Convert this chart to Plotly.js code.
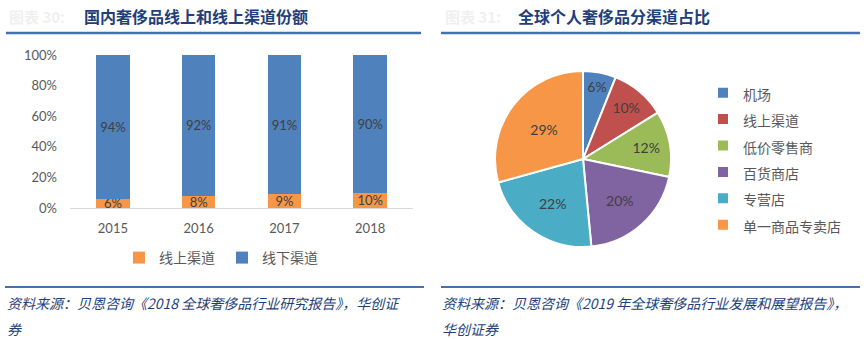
<!DOCTYPE html>
<html>
<head>
<meta charset="utf-8">
<script src="https://cdn.plot.ly/plotly-3.0.1.min.js"></script>
<style>
html,body{margin:0;padding:0;background:#fff;}
#chart{width:864px;height:339px;}
</style>
</head>
<body>
<div id="chart"></div>
<script>
// ---- data ----
const years = ['2015', '2016', '2017', '2018'];
const onlineShare = [6, 8, 9, 10];
const offlineShare = [94, 92, 91, 90];
const barSeriesNames = ['线上渠道', '线下渠道'];
const yTickVals = [0, 20, 40, 60, 80, 100];
const yTickText = ['0%', '20%', '40%', '60%', '80%', '100%'];

const pieLabels = ['机场', '线上渠道', '低价零售商', '百货商店', '专营店', '单一商品专卖店'];
const pieValues = [6, 10, 12, 20, 22, 29];

const leftTitle = '国内奢侈品线上和线上渠道份额';
const rightTitle = '全球个人奢侈品分渠道占比';
const leftSource = ['资料来源：贝恩咨询《2018 全球奢侈品行业研究报告》，华创证', '券'];
const rightSource = ['资料来源：贝恩咨询《2019 年全球奢侈品行业发展和展望报告》，', '华创证券'];

// ---- styling ----
const W = 864, H = 339;
const px = x => x / W;
const py = y => 1 - y / H;
const FONT = 'Lato, "Noto Sans CJK SC", sans-serif';
const CJK = '"Noto Sans CJK SC", sans-serif';
const orange = '#F79646', blue = '#4F81BD';
const pieColors = ['#4F81BD', '#C0504D', '#9BBB59', '#8064A2', '#4BACC6', '#F79646'];
const titleColor = '#1F3F7A';
const lineColor = '#4470B0';

const traces = [
  {
    type: 'bar', x: years, y: onlineShare, name: barSeriesNames[0],
    marker: {color: orange},
    text: onlineShare.map(v => v + '%'), texttemplate: '%{text}',
    textposition: 'inside', insidetextanchor: 'middle', constraintext: 'none', textangle: 0,
    textfont: {family: FONT, size: 13, color: '#404040'},
    hoverinfo: 'skip', legend: 'legend', xaxis: 'x', yaxis: 'y'
  },
  {
    type: 'bar', x: years, y: offlineShare, name: barSeriesNames[1],
    marker: {color: blue},
    text: offlineShare.map(v => v + '%'), texttemplate: '%{text}',
    textposition: 'inside', insidetextanchor: 'middle', constraintext: 'none', textangle: 0,
    textfont: {family: FONT, size: 13, color: '#404040'},
    hoverinfo: 'skip', legend: 'legend', xaxis: 'x', yaxis: 'y'
  },
  {
    type: 'pie',
    labels: pieLabels.map(l => '<span style="font-size:14px">' + l + '</span>'),
    values: pieValues, sort: false,
    direction: 'clockwise', rotation: 0,
    marker: {colors: pieColors, line: {color: '#ffffff', width: 2}},
    texttemplate: '%{value}%', textposition: 'inside', insidetextorientation: 'horizontal',
    textfont: {family: FONT, size: 14, color: '#404040'},
    domain: {x: [px(495), px(671)], y: [py(247), py(71)]},
    legend: 'legend2', hoverinfo: 'skip'
  }
];

const shapes = [
  {type: 'line', xref: 'paper', yref: 'paper', x0: px(6), x1: px(421), y0: py(33), y1: py(33), line: {color: lineColor, width: 2.5}},
  {type: 'line', xref: 'paper', yref: 'paper', x0: px(441), x1: px(860), y0: py(33), y1: py(33), line: {color: lineColor, width: 2.5}},
  {type: 'line', xref: 'paper', yref: 'paper', x0: px(5), x1: px(424), y0: py(287), y1: py(287), line: {color: lineColor, width: 2}},
  {type: 'line', xref: 'paper', yref: 'paper', x0: px(441), x1: px(860), y0: py(287), y1: py(287), line: {color: lineColor, width: 2}}
];

function ann(text, x, y, opts) {
  return Object.assign({
    text: text, xref: 'paper', yref: 'paper', x: px(x), y: py(y),
    xanchor: 'left', yanchor: 'middle', showarrow: false
  }, opts || {});
}

const annotations = [
  ann('<b>图表 30:</b>', 7, 16, {font: {family: CJK, size: 15, color: '#f0f0f0'}}),
  ann('<b>' + leftTitle + '</b>', 82, 16, {font: {family: CJK, size: 16, color: titleColor}}),
  ann('<b>图表 31:</b>', 443, 16, {font: {family: CJK, size: 15, color: '#f0f0f0'}}),
  ann('<b>' + rightTitle + '</b>', 516, 16, {font: {family: CJK, size: 16, color: titleColor}}),
  ann('<i>' + leftSource[0] + '</i>', 5, 303, {font: {family: CJK, size: 14, color: '#1F3F7A'}}),
  ann('<i>' + leftSource[1] + '</i>', 5, 329, {font: {family: CJK, size: 14, color: '#1F3F7A'}}),
  ann('<i>' + rightSource[0] + '</i>', 440, 303, {font: {family: CJK, size: 14, color: '#1F3F7A'}}),
  ann('<i>' + rightSource[1] + '</i>', 440, 329, {font: {family: CJK, size: 14, color: '#1F3F7A'}})
];

const layout = {
  width: W, height: H,
  margin: {l: 0, r: 0, t: 0, b: 0},
  paper_bgcolor: '#ffffff', plot_bgcolor: '#ffffff',
  barmode: 'stack', bargap: 0.61,
  showlegend: true,
  font: {family: FONT, color: '#595959'},
  xaxis: {
    domain: [px(70), px(413)], anchor: 'y',
    showgrid: false, zeroline: false,
    showline: true, linecolor: '#D9D9D9', linewidth: 1,
    ticks: '', ticklabelstandoff: 8,
    tickfont: {family: FONT, size: 13, color: '#595959'},
    fixedrange: true
  },
  yaxis: {
    domain: [py(208), py(55)], anchor: 'x',
    range: [0, 100], tickvals: yTickVals, ticktext: yTickText,
    showgrid: false, zeroline: false, showline: false,
    ticks: '', ticklabelstandoff: 12,
    tickfont: {family: FONT, size: 13, color: '#595959'},
    fixedrange: true
  },
  legend: {
    orientation: 'h', traceorder: 'normal',
    x: px(119), xanchor: 'left', y: py(258), yanchor: 'middle',
    font: {family: FONT, size: 14, color: '#595959'},
    itemwidth: 30, entrywidth: 58, entrywidthmode: 'pixels',
    bgcolor: 'rgba(0,0,0,0)'
  },
  legend2: {
    orientation: 'v', traceorder: 'normal',
    x: px(703), xanchor: 'left', y: py(159), yanchor: 'middle',
    font: {family: FONT, size: 18, color: '#595959'},
    itemwidth: 30, bgcolor: 'rgba(0,0,0,0)'
  },
  shapes: shapes,
  annotations: annotations
};

Plotly.newPlot('chart', traces, layout, {displayModeBar: false, staticPlot: true});
</script>
</body>
</html>
